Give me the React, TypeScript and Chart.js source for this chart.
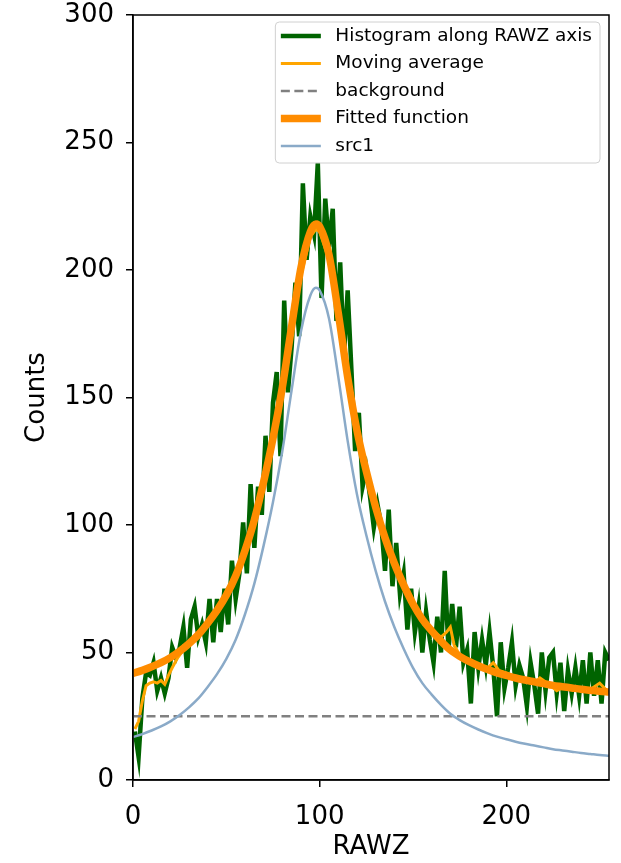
import React, { useEffect, useRef } from 'react';
import { Chart, registerables } from 'chart.js';

Chart.register(...registerables);

const FONT = '"DejaVu Sans", "Liberation Sans", sans-serif';

// Histogram along RAWZ axis (bin centres and counts)
const histX = [
  1, 3, 5, 7, 9, 11, 13, 15, 17, 19, 21, 23, 25, 27, 29, 31, 33, 35, 37, 39,
  41, 43, 45, 47, 49, 51, 53, 55, 57, 59, 61, 63, 65, 67, 69, 71, 73, 75, 77, 79,
  81, 83, 85, 87, 89, 91, 93, 95, 97, 99, 101, 103, 105, 107, 109, 111, 113, 115, 117, 119,
  121, 123, 125, 127, 129, 131, 133, 135, 137, 139, 141, 143, 145, 147, 149, 151, 153, 155, 157, 159,
  161, 163, 165, 167, 169, 171, 173, 175, 177, 179, 181, 183, 185, 187, 189, 191, 193, 195, 197, 199,
  201, 203, 205, 207, 209, 211, 213, 215, 217, 219, 221, 223, 225, 227, 229, 231, 233, 235, 237, 239,
  241, 243, 245, 247, 249, 251, 253, 255,
];
const histY = [
  19, 9, 32, 42, 41, 46, 35, 40, 34, 40, 52, 48, 52, 60, 44, 63, 68, 56, 61, 54,
  71, 54, 71, 58, 75, 61, 86, 71, 81, 101, 81, 116, 91, 115, 104, 135, 113, 148, 160, 127,
  188, 152, 170, 195, 174, 234, 204, 221, 214, 242, 189, 228, 209, 224, 180, 203, 166, 192, 161, 129,
  144, 115, 122, 111, 99, 108, 100, 82, 106, 76, 93, 73, 81, 59, 75, 58, 68, 50, 66, 55,
  46, 64, 50, 82, 51, 69, 52, 68, 46, 51, 30, 58, 44, 55, 45, 58, 44, 25, 54, 36,
  44, 54, 37, 45, 40, 29, 46, 37, 26, 50, 35, 48, 50, 34, 46, 27, 43, 34, 44, 33,
  47, 30, 50, 33, 47, 30, 50, 47,
];

// Moving average
const movX = [
  1, 3, 5, 7, 9, 11, 13, 15, 17, 19, 21, 24, 27, 30, 35, 40, 45, 50, 55, 60,
  65, 70, 75, 80, 85, 90, 95, 98, 100, 105, 110, 115, 120, 125, 130, 135, 140, 145, 150, 155,
  160, 165, 168, 170, 172, 175, 180, 185, 190, 193, 196, 200, 205, 210, 215, 218, 222, 227, 232, 237,
  242, 246, 250, 254,
];
const movY = [
  20, 23, 31, 37, 38, 38.5, 38, 39, 37.5, 41, 44, 48, 51, 53, 57, 60.5, 65.5, 71.5, 79, 89,
  101, 116, 133, 153, 176, 198, 213, 216, 215, 204, 182, 158, 138, 122, 108, 96, 86, 77, 70, 64,
  59, 56, 58, 60, 53, 49, 47, 45, 44, 46, 43, 42, 40, 39, 38, 40, 38, 35, 37, 36,
  35.5, 36, 38, 35,
];

// Background level
const bgX = [0, 255];
const bgY = [25, 25];

// Fitted function and source component
const fitX = [
  0, 5, 10, 15, 20, 25, 30, 35, 40, 45, 50, 55, 60, 65, 70, 75, 80, 85, 90, 95,
  98, 100, 105, 110, 115, 120, 125, 130, 135, 140, 145, 150, 155, 160, 165, 170, 175, 180, 185, 190,
  195, 200, 205, 210, 215, 220, 225, 230, 235, 240, 245, 250, 255,
];
const fitY = [
  41.8, 43, 44.4, 46, 48, 50.5, 53.5, 57, 61.5, 66.5, 72.5, 80, 90, 102, 117, 134, 154, 178, 201, 215,
  218, 217, 206, 183, 158, 137, 121, 107, 95, 85, 76.5, 69, 63, 58.5, 54.5, 51, 48.5, 46.5, 44.8, 43.3,
  42, 41, 40, 39.2, 38.5, 37.8, 37.1, 36.6, 36.1, 35.6, 35.2, 34.8, 34.5,
];
const srcY = [
  16.8, 18, 19.4, 21, 23, 25.5, 28.5, 32, 36.5, 41.5, 47.5, 55, 65, 77, 92, 109, 129, 153, 176, 190,
  193, 192, 181, 158, 133, 112, 96, 82, 70, 60, 51.5, 44, 38, 33.5, 29.5, 26, 23.5, 21.5, 19.8, 18.3,
  17, 16, 15, 14.2, 13.5, 12.8, 12.1, 11.6, 11.1, 10.6, 10.2, 9.8, 9.5,
];

const xTicks = [0, 100, 200];
const yTicks = [0, 50, 100, 150, 200, 250, 300];

const pts = (xs: number[], ys: number[]) => xs.map((x, i) => ({ x, y: ys[i] }));

const framePlugin = {
  id: 'frameAndLegend',
  afterDraw(chart: any) {
    const ctx = chart.ctx;
    const ca = chart.chartArea;
    ctx.save();
    ctx.strokeStyle = '#000';
    ctx.lineWidth = 1.5;
    ctx.setLineDash([]);
    ctx.strokeRect(ca.left, ca.top, ca.right - ca.left, ca.bottom - ca.top);

    // legend
    ctx.font = `18.5px ${FONT}`;
    const ds = chart.data.datasets;
    const maxW = Math.max(...ds.map((d: any) => ctx.measureText(d.label).width));
    const right = ca.right - 9;
    const top = ca.top + 7;
    const w = 5.5 + 40 + 14.5 + maxW + 8;
    const rowH = 27.5;
    const h = 14 + rowH * (ds.length - 1) + 17;
    const left = right - w;
    const r = 4;
    ctx.beginPath();
    ctx.moveTo(left + r, top);
    ctx.lineTo(right - r, top);
    ctx.quadraticCurveTo(right, top, right, top + r);
    ctx.lineTo(right, top + h - r);
    ctx.quadraticCurveTo(right, top + h, right - r, top + h);
    ctx.lineTo(left + r, top + h);
    ctx.quadraticCurveTo(left, top + h, left, top + h - r);
    ctx.lineTo(left, top + r);
    ctx.quadraticCurveTo(left, top, left + r, top);
    ctx.closePath();
    ctx.fillStyle = 'rgba(255,255,255,0.8)';
    ctx.fill();
    ctx.strokeStyle = '#d0d0d0';
    ctx.lineWidth = 1;
    ctx.stroke();

    ds.forEach((d: any, i: number) => {
      const cy = top + 14 + i * rowH;
      ctx.beginPath();
      ctx.setLineDash(d.borderDash || []);
      ctx.strokeStyle = d.borderColor;
      ctx.lineWidth = d.borderWidth;
      ctx.lineCap = 'butt';
      ctx.moveTo(left + 5.5, cy);
      ctx.lineTo(left + 45.5, cy);
      ctx.stroke();
      ctx.setLineDash([]);
      ctx.fillStyle = '#000';
      ctx.textBaseline = 'middle';
      ctx.textAlign = 'left';
      ctx.fillText(d.label, left + 60, cy);
    });
    ctx.restore();
  },
};

export default function App() {
  const ref = useRef<HTMLCanvasElement>(null);

  useEffect(() => {
    document.body.style.margin = '0';
    const canvas = ref.current;
    if (!canvas) return;
    const tickFont = { family: FONT, size: 26 };
    const chart = new Chart(canvas, {
      type: 'line',
      data: {
        datasets: [
          {
            label: 'Histogram along RAWZ axis',
            data: pts(histX, histY),
            borderColor: '#006400',
            borderWidth: 4.5,
            pointRadius: 0,
            tension: 0,
            order: 5,
          },
          {
            label: 'Moving average',
            data: pts(movX, movY),
            borderColor: '#FFA500',
            borderWidth: 3,
            pointRadius: 0,
            tension: 0,
            order: 4,
          },
          {
            label: 'background',
            data: pts(bgX, bgY),
            borderColor: '#808080',
            borderWidth: 2.3,
            borderDash: [9, 4.5],
            pointRadius: 0,
            order: 3,
          },
          {
            label: 'Fitted function',
            data: pts(fitX, fitY),
            borderColor: '#FF8C00',
            borderWidth: 7.5,
            pointRadius: 0,
            cubicInterpolationMode: 'monotone',
            order: 2,
          },
          {
            label: 'src1',
            data: pts(fitX, srcY),
            borderColor: '#8aaac8',
            borderWidth: 2.5,
            pointRadius: 0,
            cubicInterpolationMode: 'monotone',
            order: 1,
          },
        ] as any,
      },
      options: {
        responsive: false,
        animation: false,
        devicePixelRatio: 1,
        layout: { padding: { left: 0, right: 12, top: 15, bottom: 0 } },
        plugins: { legend: { display: false }, tooltip: { enabled: false } },
        scales: {
          x: {
            type: 'linear',
            min: 0,
            max: 255,
            afterBuildTicks: (s: any) => {
              s.ticks = xTicks.map((v) => ({ value: v }));
            },
            afterFit: (s: any) => {
              s.height = 83;
              s.paddingLeft = 0;
              s.paddingRight = 0;
            },
            ticks: { color: '#000', font: tickFont, padding: 15, maxRotation: 0, autoSkip: false },
            grid: { drawOnChartArea: false, drawTicks: true, tickLength: 7, color: '#000', lineWidth: 1.5 },
            border: { display: true, color: '#000', width: 1.5 },
            title: { display: true, text: 'RAWZ', color: '#000', font: tickFont, padding: { top: 0, bottom: 0 } },
          },
          y: {
            type: 'linear',
            min: 0,
            max: 300,
            afterBuildTicks: (s: any) => {
              s.ticks = yTicks.map((v) => ({ value: v }));
            },
            afterFit: (s: any) => {
              s.width = 133;
              s.paddingTop = 0;
              s.paddingBottom = 0;
            },
            ticks: { color: '#000', font: tickFont, padding: 12, autoSkip: false },
            grid: { drawOnChartArea: false, drawTicks: true, tickLength: 7, color: '#000', lineWidth: 1.5 },
            border: { display: true, color: '#000', width: 1.5 },
            title: { display: true, text: 'Counts', color: '#000', font: tickFont, padding: { top: 22, bottom: 0 } },
          },
        },
      } as any,
      plugins: [framePlugin],
    });
    return () => chart.destroy();
  }, []);

  return (
    <div style={{ width: 621, height: 863 }}>
      <canvas ref={ref} width={621} height={863} style={{ display: 'block', width: 621, height: 863 }} />
    </div>
  );
}
